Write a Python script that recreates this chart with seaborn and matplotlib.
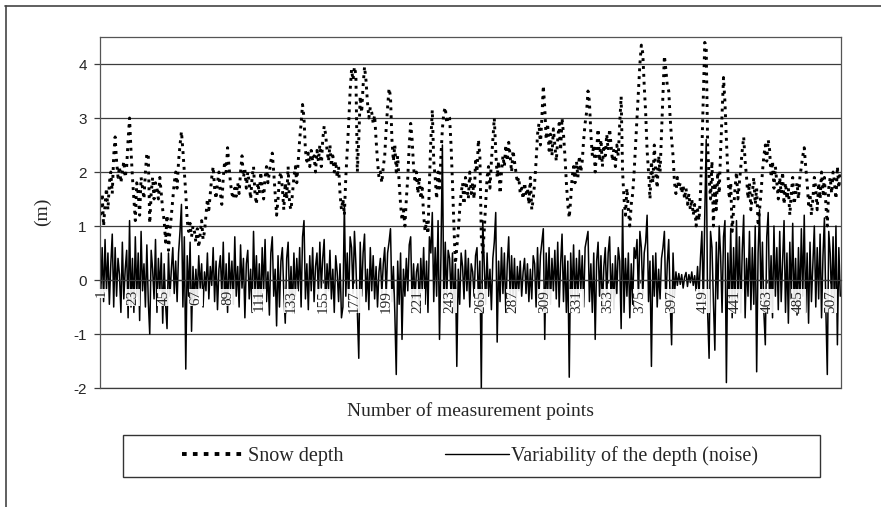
import numpy as np
import pandas as pd
import matplotlib
matplotlib.use("Agg")
import matplotlib.pyplot as plt
import seaborn as sns
from matplotlib.lines import Line2D
from matplotlib.patches import Rectangle
from matplotlib.transforms import offset_copy

# snow depth (m), one row per 22 measurement points
snow_depth = [
    1.2, 1.6, 1.0, 1.4, 1.7, 1.3, 1.8, 2.0, 1.6, 2.3, 2.65, 2.2, 1.9, 2.1, 1.8, 2.0, 2.2, 1.9, 2.1, 2.6, 3.0, 2.4,
    1.9, 1.5, 1.1, 1.8, 1.6, 1.2, 1.9, 1.7, 1.5, 2.0, 2.35, 2.3, 1.05, 1.6, 1.9, 1.5, 1.8, 1.7, 1.5, 1.9, 1.6, 1.3,
    1.1, 0.7, 1.2, 0.55, 0.9, 1.2, 1.5, 1.8, 2.0, 1.7, 2.2, 2.5, 2.75, 2.4, 2.0, 1.6, 1.1, 0.9, 1.05, 0.8, 1.0, 0.9,
    0.7, 0.95, 0.6, 0.85, 1.1, 0.75, 0.9, 1.2, 1.5, 1.3, 1.6, 1.9, 2.1, 1.7, 1.5, 1.8, 2.0, 1.6, 1.4, 1.9, 2.2, 2.0,
    2.45, 2.1, 1.8, 1.6, 1.5, 1.7, 1.55, 1.8, 1.6, 2.0, 2.3, 1.9, 2.05, 1.7, 2.0, 1.8, 1.5, 1.9, 2.1, 1.6, 1.4, 1.8,
    1.6, 2.0, 1.7, 1.5, 1.9, 2.1, 1.8, 2.0, 2.2, 2.35, 2.0, 1.6, 1.2, 1.5, 1.9, 2.0, 1.7, 1.3, 1.8, 1.5, 2.1, 1.4,
    1.3, 1.6, 1.9, 2.1, 1.8, 2.2, 2.6, 2.9, 3.25, 3.0, 2.4, 2.2, 2.35, 2.1, 2.4, 2.2, 2.3, 2.0, 2.4, 2.2, 2.5, 2.1,
    2.6, 2.85, 2.7, 2.4, 2.2, 2.5, 2.1, 2.3, 2.0, 2.2, 1.9, 2.1, 1.6, 1.3, 1.5, 1.2, 1.9, 2.4, 2.9, 3.5, 3.9, 3.7,
    3.95, 3.8, 2.0, 2.6, 3.4, 3.1, 3.6, 3.95, 3.7, 3.3, 3.0, 3.2, 3.1, 2.9, 3.05, 2.6, 2.2, 1.9, 2.0, 1.8, 2.1, 2.3,
    2.8, 3.2, 3.55, 3.4, 2.6, 2.2, 2.5, 2.0, 2.3, 1.8, 1.4, 1.1, 1.3, 1.0, 1.5, 1.9, 2.5, 2.9, 2.6, 2.1, 1.8, 2.0,
    1.6, 1.9, 1.5, 1.7, 1.2, 0.9, 1.1, 0.85, 1.8, 2.6, 3.15, 2.2, 1.9, 1.5, 2.0, 1.7, 2.3, 2.8, 3.1, 3.2, 2.9, 3.05,
    3.0, 2.5, 1.8, 1.0, 0.3, 0.6, 0.9, 1.3, 1.6, 1.8, 1.4, 1.9, 1.7, 1.5, 2.0, 1.6, 1.8, 1.5, 2.2, 2.0, 2.6, 2.3,
    0.8, 0.5, 0.9, 1.4, 1.9, 2.1, 1.7, 2.2, 2.6, 3.0, 2.4, 1.9, 2.2, 1.6, 2.0, 2.3, 2.1, 2.5, 2.2, 2.55, 2.3, 2.0,
    2.4, 2.2, 2.0, 1.8, 1.9, 1.6, 1.7, 1.5, 1.8, 1.6, 1.7, 1.4, 1.9, 1.3, 1.5, 1.8, 2.2, 2.7, 2.9, 2.5, 3.0, 3.6,
    3.2, 2.6, 2.9, 2.4, 2.7, 2.3, 2.8, 2.5, 2.2, 2.6, 2.9, 2.4, 3.0, 2.7, 2.3, 1.8, 1.4, 1.15, 1.5, 1.9, 2.1, 1.8,
    2.2, 1.9, 2.3, 2.0, 2.2, 2.6, 2.9, 3.1, 3.5, 3.3, 2.7, 2.3, 2.5, 2.0, 2.4, 2.8, 2.2, 2.6, 2.1, 2.5, 2.3, 2.7,
    2.4, 2.8, 2.5, 2.2, 2.4, 2.1, 2.5, 2.3, 2.9, 3.4, 2.0, 1.5, 1.2, 1.7, 1.3, 1.0, 1.4, 1.6, 2.0, 2.5, 3.0, 3.5,
    4.0, 4.35, 4.2, 3.6, 3.1, 2.4, 2.0, 1.5, 2.2, 1.8, 2.5, 2.0, 1.7, 2.3, 2.0, 2.7, 3.4, 4.15, 3.9, 3.6, 3.5, 3.0,
    2.6, 2.3, 1.8, 1.6, 1.9, 1.7, 1.8, 1.6, 1.75, 1.5, 1.7, 1.4, 1.6, 1.3, 1.5, 1.2, 1.4, 1.0, 1.3, 1.1, 1.6, 2.4,
    3.4, 4.4, 4.3, 2.5, 1.9, 1.5, 2.2, 1.0, 1.8, 1.3, 2.0, 1.6, 2.4, 3.1, 3.75, 3.3, 2.6, 2.0, 1.5, 1.8, 0.9, 1.3,
    1.7, 2.0, 1.5, 1.8, 2.1, 2.4, 2.65, 2.2, 1.9, 1.5, 1.8, 1.3, 1.6, 1.9, 1.4, 1.7, 1.0, 1.3, 1.6, 2.0, 2.3, 2.5,
    2.2, 2.6, 2.4, 1.9, 2.2, 1.7, 2.1, 1.8, 1.5, 1.9, 1.6, 2.0, 1.4, 1.8, 1.5, 1.7, 1.2, 1.6, 1.9, 1.4, 1.6, 1.8,
    1.5, 1.9, 2.1, 2.3, 2.45, 2.1, 1.8, 1.4, 1.6, 1.2, 1.5, 1.9, 1.7, 1.3, 1.8, 1.5, 2.0, 1.6, 1.9, 1.4, 1.0, 1.7,
    1.9, 1.6, 2.0, 1.8, 1.5, 2.1, 1.7, 2.0,
]

# variability of the depth (noise), same layout
noise = [
    -0.3, 0.6, -0.4, 0.75, -0.2, 0.5, -0.45, 0.3, 0.85, -0.5, 0.6, -0.3, 0.4, 0.1, -0.6, 0.7, -0.35, 0.2, 0.55, -0.7, 1.1, -0.5,
    0.4, -0.6, 0.8, -0.3, 0.5, -0.75, 0.9, -0.2, 0.3, -0.5, 0.65, -0.4, -1.0, 0.55, 0.2, -0.35, 0.75, -0.6, 0.4, -0.2, 0.5, -0.8,
    0.3, -0.45, -0.9, 0.5, -0.3, 0.2, 0.6, -0.25, 0.35, -0.4, 0.5, 0.9, 1.4, -0.5, 0.8, -1.65, 0.45, -0.3, 0.7, -0.95, 0.25, -0.4,
    0.2, -0.3, 0.45, -0.15, 0.3, -0.5, 0.15, -0.2, 0.5, -0.35, 0.25, -0.1, 0.6, -0.4, 0.35, -0.55, 0.2, 0.45, -0.3, 0.7, -0.45, 0.3,
    -0.6, 0.5, -0.2, 0.35, -0.45, 0.8, -0.3, 0.25, -0.5, 0.65, -0.15, 0.4, -0.7, 0.3, 0.55, -0.35, 0.2, -0.6, 0.9, -0.25, 0.45, -0.4,
    0.3, -0.55, 0.6, -0.2, 0.75, -0.4, 0.15, -0.65, 0.5, 0.8, -0.3, 0.2, -0.85, 0.45, -0.5, 0.35, 0.6, -0.25, -0.8, 0.4, 0.7, -0.45,
    0.25, -0.6, 0.5, -0.3, 0.4, -0.2, 0.6, -0.5, 0.8, 1.1, -0.35, 0.3, -0.55, 0.45, -0.2, 0.6, -0.4, 0.25, 0.5, -0.3, 0.7, -0.15,
    0.4, 0.75, -0.5, 0.3, -0.2, 0.55, -0.35, 0.2, -0.6, 0.45, 0.15, -0.4, 0.3, -0.7, -0.5, 1.4, -0.3, 0.5, -0.45, 0.8, 0.6, -0.25,
    0.9, 0.3, -0.6, -1.45, 0.7, -0.3, 0.5, 0.85, -0.4, 0.2, -0.55, 0.6, -0.2, 0.45, -0.35, 0.25, -0.5, 0.15, 0.4, -0.25, 0.3, 0.6,
    -0.3, 0.5, 0.7, 0.95, -0.4, 0.25, -0.6, -1.75, 0.35, -0.45, 0.5, -1.1, 0.2, -0.3, 0.4, -0.2, 0.65, 0.8, -0.5, 0.3, -0.35, 0.15,
    0.3, -0.5, 0.4, -0.2, 0.6, -0.45, 0.35, -0.6, 0.8, 0.5, 1.25, -0.4, 0.6, -0.3, 1.1, -1.1, 0.45, 2.5, -0.5, 0.7, -0.35, 0.55,
    0.4, -0.3, 0.5, -0.6, 0.3, -1.6, 0.2, -0.45, 0.5, 0.25, -0.35, 0.55, -0.2, 0.4, -0.5, 0.3, 0.15, -0.3, 0.45, 0.6, -0.4, 0.35,
    -2.0, 1.1, 0.3, -0.45, 0.5, -0.3, 0.2, -0.55, 0.4, 0.7, 1.25, -1.15, 0.35, -0.4, 0.6, -0.25, 0.5, -0.6, 0.3, 0.8, -0.35, 0.45,
    -0.3, 0.4, -0.5, 0.25, -0.2, 0.35, -0.3, 0.15, 0.4, -0.25, 0.3, -0.4, 0.2, -0.35, 0.45, 0.3, -0.5, 0.6, -0.3, 0.45, 0.7, 0.95,
    -1.1, 0.5, -0.3, 0.6, -0.45, 0.4, -0.2, 0.55, -0.35, 0.7, -0.5, 0.3, 0.85, -0.4, 0.45, -0.6, 0.35, -1.8, 0.5, -0.3, 0.65, -0.45,
    0.4, -0.35, 0.55, -0.2, 0.45, -0.5, 0.6, 0.75, 0.9, -0.4, 0.3, -0.6, 0.5, -1.1, 0.35, 0.7, -0.3, 0.45, -0.55, 0.25, 0.6, -0.35,
    0.5, 0.8, -0.4, 0.3, -0.55, 0.45, -0.25, 0.6, 0.35, -0.9, 1.3, -0.6, 0.4, -0.3, 0.5, -0.7, 0.3, -0.45, 0.6, 0.4, 0.75, -0.35,
    0.9, 0.6, -0.3, 0.5, 0.7, 1.2, -0.4, 0.35, -1.6, 0.45, -0.3, 0.5, -0.5, 0.2, -0.35, 0.4, 0.6, 0.9, -0.5, 0.3, 0.75, -0.4,
    -1.2, 0.5, -0.3, 0.15, -0.1, 0.12, -0.08, 0.1, -0.15, 0.05, 0.14, -0.12, 0.1, -0.05, 0.15, -0.1, 0.08, -0.2, 0.25, -0.3, 0.4, 0.9,
    -0.5, 1.2, 2.6, -0.6, -1.45, 0.9, 0.6, -0.4, -1.3, 0.7, -0.35, 1.0, 0.45, -0.6, 0.8, 1.1, -1.9, 0.5, -0.45, 0.95, -0.7, 0.6,
    -0.5, 1.1, -0.4, 0.8, -0.6, 0.55, 1.2, -0.7, 0.4, -0.3, 0.9, -0.55, 0.6, -0.45, 1.0, -1.7, 0.5, 1.3, -0.4, 0.7, -0.6, -1.2,
    0.8, 1.25, -0.5, 0.45, -0.7, 1.0, -0.3, 0.6, -0.55, 0.9, -0.4, 0.35, 1.1, -0.6, 0.5, -0.8, 0.7, -0.35, 1.05, -0.5, 0.4, -0.65,
    0.6, -0.45, 0.95, -0.3, 1.2, -0.6, 0.5, -0.8, 0.7, -0.4, 0.3, 1.0, -0.5, 0.6, -0.35, 0.85, -0.7, 0.45, 1.15, -0.55, -1.75, 0.9,
    0.5, -0.4, 0.8, -0.6, 1.0, -1.2, 0.6, -0.3,
]

x_tick_labels = [1, 23, 45, 67, 89, 111, 133, 155, 177, 199, 221, 243, 265, 287,
                 309, 331, 353, 375, 397, 419, 441, 463, 485, 507]
y_ticks = [-2, -1, 0, 1, 2, 3, 4]

df_snow = pd.DataFrame({"point": np.arange(1, len(snow_depth) + 1), "value": snow_depth})
df_noise = pd.DataFrame({"point": np.arange(1, len(noise) + 1), "value": noise})
n_points = max(len(snow_depth), len(noise))

sns.set_style("white")
plt.rcParams["font.family"] = ["Liberation Serif", "DejaVu Serif"]

W, H = 881, 507
fig = plt.figure(figsize=(W / 100, H / 100), dpi=100)
ax = fig.add_axes([100 / W, 1 - 388 / H, 741 / W, 351 / H])

grid_col = "#3c3c3c"
ax.yaxis.grid(True, color=grid_col, lw=0.9)
ax.set_axisbelow(True)

sns.lineplot(data=df_snow, x="point", y="value", ax=ax, color="black",
             lw=2.1, estimator=None, legend=False, zorder=2)
ax.lines[-1].set_dashes((1.0, 1.7))
ax.lines[-1].set_dash_capstyle("butt")
sns.lineplot(data=df_noise, x="point", y="value", ax=ax, color="black",
             lw=1.1, estimator=None, legend=False, zorder=2)

ax.set_xlim(0.5, n_points + 0.5)
ax.set_ylim(-2, 4.5)
ax.set_yticks(y_ticks)
ax.set_yticklabels([str(v) for v in y_ticks], family="Liberation Sans", fontsize=11)
ax.set_xticks(x_tick_labels)
ax.set_xticklabels([])
ax.set_xlabel("")
ax.set_ylabel("")

# category labels sit just under the zero line, on top of the traces
label_trans = offset_copy(ax.transData, fig=fig, x=0, y=-7, units="points")
for v in x_tick_labels:
    ax.text(v, 0, str(v), transform=label_trans, rotation=90, ha="center", va="top",
            fontsize=11, zorder=6,
            bbox=dict(facecolor="white", edgecolor="none", pad=0.4, alpha=0.9))

ax.spines["bottom"].set_position(("data", 0))
ax.spines["bottom"].set_color(grid_col)
ax.spines["bottom"].set_linewidth(0.9)
for s in ["left", "right", "top"]:
    ax.spines[s].set_color("#555555")
    ax.spines[s].set_linewidth(0.9)
ax.plot([0, 1], [0, 0], transform=ax.transAxes, color=grid_col, lw=0.9, clip_on=False)
ax.tick_params(axis="y", direction="out", length=4.5, width=0.9, color=grid_col, pad=5, left=True)
ax.tick_params(axis="x", direction="out", length=2.5, width=0.8, color=grid_col, pad=3, bottom=True)

fig.text(470.5 / W, 1 - 411 / H, "Number of measurement points", ha="center", va="center", fontsize=14)
fig.text(42 / W, 1 - 212 / H, "(m)", ha="center", va="center", rotation=90, fontsize=14)

# legend box
fig.add_artist(Rectangle((123 / W, 1 - 477 / H), 697 / W, 42 / H, transform=fig.transFigure,
                         fill=False, edgecolor="#333333", lw=1.0))
handles = [
    Line2D([], [], color="black", lw=2.8, dashes=(1.2, 1.6), dash_capstyle="butt"),
    Line2D([], [], color="black", lw=1.0),
]
fig.legend(handles, ["Snow depth", "Variability of the depth (noise)"], loc="center",
           bbox_to_anchor=(470 / W, 1 - 456 / H), ncol=2, frameon=False, fontsize=14.5,
           handlelength=3.2, handletextpad=0.1, columnspacing=5.0)

# outer frame
fig.add_artist(Line2D([6 / W, 6 / W], [0, 1 - 6 / H], color="#444444", lw=1.2))
fig.add_artist(Line2D([5 / W, 1], [1 - 6 / H, 1 - 6 / H], color="#444444", lw=1.2))

fig.savefig("out.png", dpi=100)
